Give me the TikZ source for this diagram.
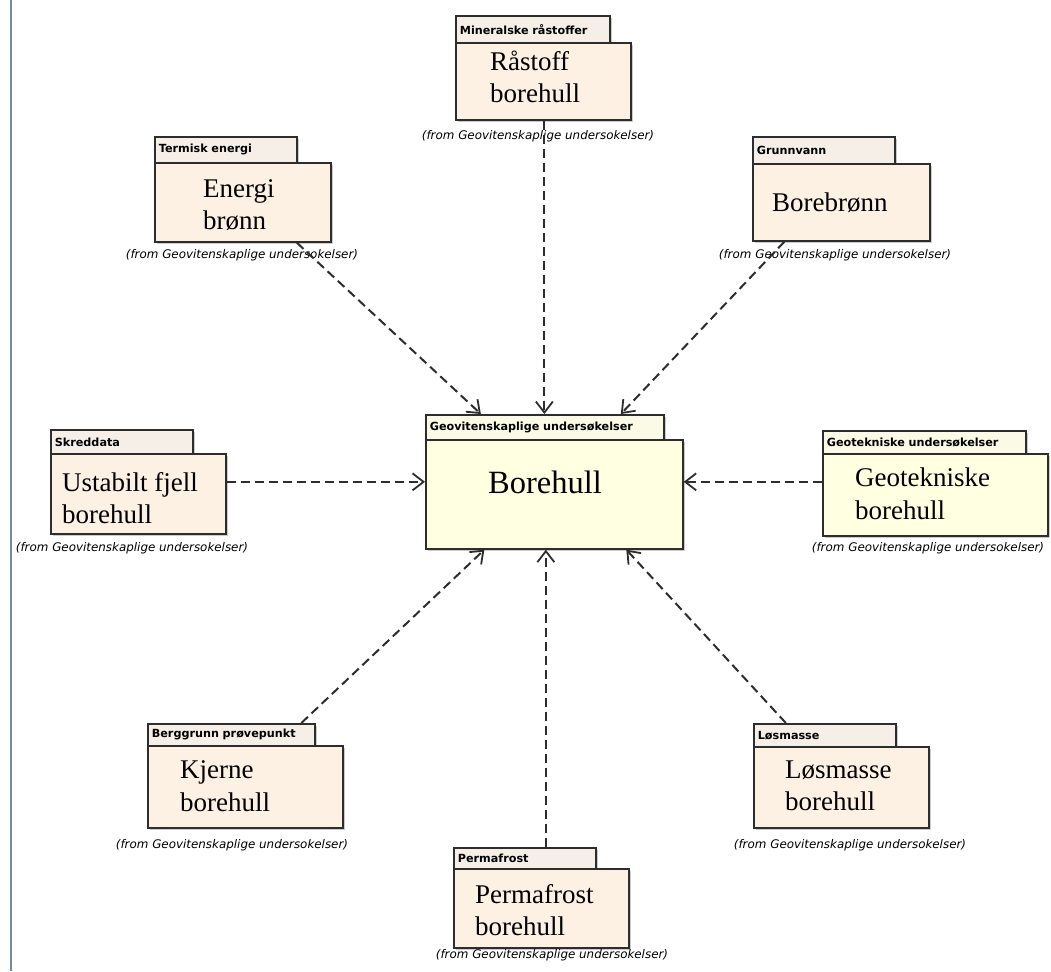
\documentclass[tikz,border=0pt]{standalone}
\usepackage{fontspec}
\setmainfont{Liberation Serif}
\newfontfamily\tabfont{DejaVu Sans}
\usetikzlibrary{arrows.meta,shadows,calc}
\definecolor{peach}{RGB}{253,241,227}
\definecolor{peachtab}{RGB}{246,239,231}
\definecolor{lyellow}{RGB}{255,255,226}
\definecolor{lyellowtab}{RGB}{250,250,230}
\definecolor{pkgborder}{RGB}{45,45,45}
\definecolor{barcol}{RGB}{120,135,160}
\definecolor{linecol}{RGB}{45,45,45}
\begin{document}
\begin{tikzpicture}[x=1pt,y=-1pt,
  pkgline/.style={draw=pkgborder,line width=1.7pt,
    drop shadow={shadow xshift=2.5pt,shadow yshift=-2.5pt,fill=black!40,opacity=0.5}},
  tabst/.style={pkgline,anchor=north west,inner xsep=4pt,inner ysep=0pt,
    font=\tabfont\bfseries\fontsize{11.2}{12}\selectfont,align=left},
  bodyst/.style={pkgline,anchor=north west,inner sep=0pt},
  ptxt/.style={anchor=west,align=left,inner sep=0pt,
    font=\fontsize{27}{32.5}\selectfont},
  note/.style={inner sep=0pt,font=\tabfont\itshape\fontsize{11.9}{13}\selectfont},
  dep/.style={draw=linecol,line width=2pt,dash pattern=on 9pt off 5pt,
    -{Straight Barb[length=11pt,width=17pt,line width=1.8pt]}}
]
\fill[white] (0,0) rectangle (1051,971);
\useasboundingbox (0,0) rectangle (1051,971);
\draw[barcol,line width=2pt] (11,0) -- (11,971);

% Mineralske raastoffer
\node[tabst,fill=peachtab,text width=146pt,minimum height=27pt] (raat) at (455,15) {Mineralske råstoffer};
\node[bodyst,fill=peach,minimum width=175pt,minimum height=77pt] (raab) at (455,42) {};
\node[ptxt] (raatx) at (490,77) {Råstoff\\borehull};
\node[note] (raan) at (538,136) {(from Geovitenskaplige undersokelser)};

% Termisk energi
\node[tabst,fill=peachtab,text width=134pt,minimum height=26pt] (energit) at (154,136) {Termisk energi};
\node[bodyst,fill=peach,minimum width=176pt,minimum height=79pt] (energib) at (154,162) {};
\node[ptxt] (energitx) at (203,205) {Energi\\brønn};
\node[note] (energin) at (242,255) {(from Geovitenskaplige undersokelser)};

% Grunnvann
\node[tabst,fill=peachtab,text width=134pt,minimum height=27pt] (grunnt) at (752,136) {Grunnvann};
\node[bodyst,fill=peach,minimum width=177pt,minimum height=77pt] (grunnb) at (752,163) {};
\node[ptxt] (grunntx) at (772,203) {Borebrønn};
\node[note] (grunnn) at (835,255) {(from Geovitenskaplige undersokelser)};

% Skreddata
\node[tabst,fill=peachtab,text width=134pt,minimum height=24pt] (skredt) at (50,429) {Skreddata};
\node[bodyst,fill=peach,minimum width=175pt,minimum height=80pt] (skredb) at (50,453) {};
\node[ptxt] (skredtx) at (62,498) {Ustabilt fjell\\borehull};
\node[note] (skredn) at (132,548) {(from Geovitenskaplige undersokelser)};

% Centre
\node[tabst,fill=lyellowtab,text width=230pt,minimum height=25pt] (ctab) at (425,414) {Geovitenskaplige undersøkelser};
\node[bodyst,fill=lyellow,minimum width=257pt,minimum height=109pt] (cbody) at (425,439) {};
\node[inner sep=0pt,font=\fontsize{32.5}{38}\selectfont] (ctx) at (545,482) {Borehull};

% Geotekniske
\node[tabst,fill=lyellowtab,text width=195pt,minimum height=23pt] (geotekt) at (822,430) {Geotekniske undersøkelser};
\node[bodyst,fill=lyellow,minimum width=225pt,minimum height=82pt] (geotekb) at (822,453) {};
\node[ptxt] (geotektx) at (855,494) {Geotekniske\\borehull};
\node[note] (geotekn) at (928,548) {(from Geovitenskaplige undersokelser)};

% Berggrunn
\node[tabst,fill=peachtab,text width=159pt,minimum height=22pt] (kjernet) at (147,723) {Berggrunn prøvepunkt};
\node[bodyst,fill=peach,minimum width=195pt,minimum height=82pt] (kjerneb) at (147,745) {};
\node[ptxt] (kjernetx) at (180,786) {Kjerne\\borehull};
\node[note] (kjernen) at (232,845) {(from Geovitenskaplige undersokelser)};

% Losmasse
\node[tabst,fill=peachtab,text width=134pt,minimum height=23pt] (losmt) at (753,723) {Løsmasse};
\node[bodyst,fill=peach,minimum width=175pt,minimum height=81pt] (losmb) at (753,746) {};
\node[ptxt] (losmtx) at (785,786) {Løsmasse\\borehull};
\node[note] (losmn) at (850,845) {(from Geovitenskaplige undersokelser)};

% Permafrost
\node[tabst,fill=peachtab,text width=134pt,minimum height=21pt] (permat) at (453,847) {Permafrost};
\node[bodyst,fill=peach,minimum width=175pt,minimum height=79pt] (permab) at (453,868) {};
\node[ptxt] (permatx) at (475,910) {Permafrost\\borehull};
\node[note] (perman) at (552,955) {(from Geovitenskaplige undersokelser)};

% connectors
\coordinate (rs) at ([xshift=1pt]raab.south);
\draw[dep] (rs) -- (rs |- ctab.north);
\draw[dep] ([xshift=54pt]energib.south) -- ([xshift=-64pt]ctab.north);
\draw[dep] ([xshift=-57pt]grunnb.south) -- ([xshift=76pt]ctab.north);
\coordinate (sk) at ([yshift=12pt]skredb.east);
\draw[dep] (sk) -- (sk -| cbody.west);
\coordinate (gk) at ([yshift=13pt]geotekb.west);
\draw[dep] (gk) -- (gk -| cbody.east);
\draw[dep] ([xshift=70pt]kjernet.north) -- ([xshift=-70pt]cbody.south);
\coordinate (pm) at ([xshift=21pt]permat.north);
\draw[dep] (pm) -- (pm |- cbody.south);
\draw[dep] ([xshift=-39pt]losmt.north) -- ([xshift=72pt]cbody.south);
\end{tikzpicture}
\end{document}
